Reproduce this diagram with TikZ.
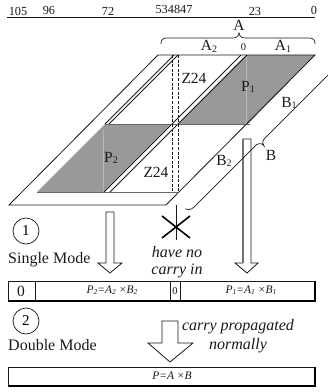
\documentclass[tikz,border=0pt]{standalone}
\usepackage{fontspec}
\setmainfont{Liberation Serif}
\definecolor{prodgrey}{RGB}{153,153,153}
\definecolor{ink}{RGB}{25,25,25}
\tikzset{
  x=1pt,y=-1pt,
  edge/.style={draw=ink,line width=0.8pt},
  softedge/.style={draw=black!60,line width=0.9pt},
  guide/.style={draw=ink,line width=0.7pt,dash pattern=on 3pt off 1.6pt},
  seam/.style={draw=black!28,line width=0.5pt},
  lbl/.style={inner sep=0pt,text=ink,font=\fontsize{15.5}{16}\selectfont},
  toplbl/.style={inner sep=0pt,text=ink,font=\fontsize{12.3}{13}\selectfont},
  tinylbl/.style={inner sep=0pt,text=ink,font=\fontsize{10.5}{11}\selectfont},
  note/.style={inner sep=0pt,text=ink,font=\fontsize{16}{17}\selectfont\itshape},
  small/.style={inner sep=0pt,text=ink,font=\fontsize{11.5}{12}\selectfont\itshape},
  modelbl/.style={inner sep=0pt,anchor=west,text=ink,font=\fontsize{16}{17}\selectfont},
  blockarrow/.style={draw=ink,line width=0.8pt,fill=white,line join=miter},
  regbar/.style={draw=ink,line width=0.8pt,fill=white},
  stepcirc/.style={draw=ink,circle,line width=0.7pt,minimum size=26pt,inner sep=0pt,font=\fontsize{15}{16}\selectfont},
}
\newcommand{\subs}[1]{\raisebox{-0.25ex}{\scalebox{0.65}{#1}}}
\begin{document}
\begin{tikzpicture}
\useasboundingbox (0,0) rectangle (328,392);
% bit ruler
\draw[edge] (7,17) -- (315,17);
\node[toplbl] at (18,11) {105};
\node[toplbl] at (49,10.5) {96};
\node[toplbl] at (108,11) {72};
\node[toplbl] at (174,9.5) {534847};
\node[toplbl] at (255,11) {23};
\node[toplbl] at (314,10.5) {0};
% brace A
\draw[edge,line width=0.7pt] (161,44) .. controls (161,39) and (163,38) .. (168,38) -- (232,38) .. controls (236,38) and (238,37) .. (239,33) .. controls (240,37) and (242,38) .. (246,38) -- (308,38) .. controls (313,38) and (315,39) .. (315,44);
\node[lbl] at (239,25.5) {A};
\node[lbl] at (209,46) {A\subs{2}};
\node[tinylbl] at (243.5,47) {0};
\node[lbl] at (283,46) {A\subs{1}};
% shaded products
\fill[prodgrey] (246,55) -- (315,55) -- (248,124) -- (178,124) -- cycle;
\fill[prodgrey] (105,124) -- (171,124) -- (103,192) -- (37,192) -- cycle;
\draw[seam] (246,55) -- (246,124);
\draw[seam] (103,130) -- (103,192);
% parallelogram
\draw[edge] (158,55) -- (315,55) -- (166,205) -- (9,205) -- cycle;
\draw[edge] (174,55) -- (105,124);
\draw[edge] (178,55) -- (109,124);
\draw[edge] (241,55) -- (104,192);
\draw[edge] (247,55) -- (110,192);
\draw[softedge] (105,124) -- (250,124);
\draw[softedge] (37,192) -- (178,192);
\draw[guide] (172.7,55) -- (172.7,192);
\draw[guide] (178,55) -- (178,192);
\node[lbl] at (194,78) {Z24};
\node[lbl] at (156,172) {Z24};
\node[lbl] at (248,87) {P\subs{1}};
\node[lbl] at (111,158) {P\subs{2}};
\node[lbl] at (289,103) {B\subs{1}};
\node[lbl] at (224,161) {B\subs{2}};
% no-carry cross
\draw[draw=ink,line width=0.7pt] (176,205) -- (176,240);
\draw[draw=black,line width=1.6pt] (162,216) -- (190,238);
\draw[draw=black,line width=1.6pt] (190,216) -- (162,238);
\node[note] at (177,252) {have no};
\node[note] at (177,271) {carry in};
% arrows
\draw[blockarrow] (106,212) -- (114,212) -- (114,263) -- (122,263) -- (110,273) -- (98,263) -- (106,263) -- cycle;
\draw[blockarrow] (243,139) -- (251,139) -- (251,263) -- (258,263) -- (247,273) -- (235,263) -- (243,263) -- cycle;
\draw[draw=black!55,line width=1.4pt] (243,139) -- (243,263);
\draw[blockarrow] (162,321) -- (178,321) -- (178,343) -- (193,343) -- (170,362) -- (148,343) -- (162,343) -- cycle;
% brace B
\draw[edge,line width=0.7pt] (328,75) -- (265,138) .. controls (262,141) and (262,144) .. (264,146) .. controls (262,143) and (259,143) .. (256,145) -- (194,207) .. controls (191,210) and (188,210) .. (185,209);
\node[lbl] at (271,155) {B};
% mode 1
\node[stepcirc] at (26,231) {1};
\node[modelbl] at (8,260) {Single Mode};
\draw[regbar] (8,281) rectangle (315,301);
\draw[edge] (35,281) -- (35,301);
\draw[edge] (170,281) -- (170,301);
\draw[edge] (180,281) -- (180,301);
\draw[draw=black,line width=1.2pt] (8,301) -- (315,301) -- (315,281);
\node[lbl] at (21,291) {0};
\node[small] at (112,290) {P\subs{2}=A\subs{2} ×B\subs{2}};
\node[tinylbl] at (175,291) {0};
\node[small] at (251,290) {P\subs{1}=A\subs{1} ×B\subs{1}};
% mode 2
\node[stepcirc] at (26,321) {2};
\node[modelbl] at (8,345) {Double Mode};
\node[note] at (238,327) {carry propagated};
\node[note] at (238,346) {normally};
\draw[regbar] (8,367) rectangle (315,386);
\draw[draw=black,line width=1.2pt] (8,386) -- (315,386) -- (315,367);
\node[small] at (172,376) {P=A ×B};
\end{tikzpicture}
\end{document}
